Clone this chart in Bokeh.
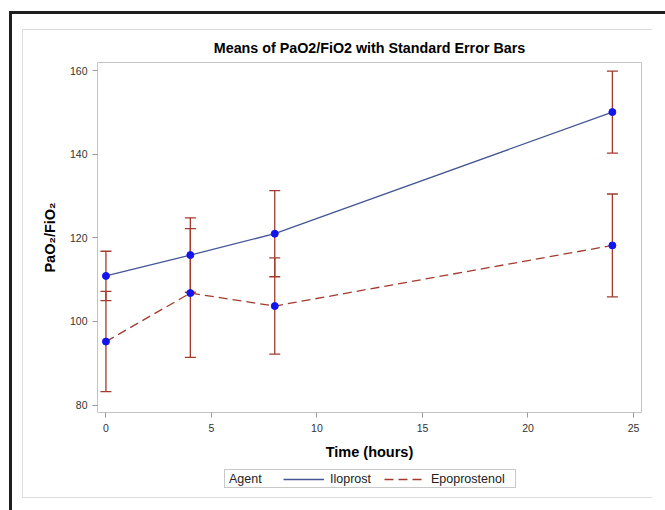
from bokeh.plotting import figure
from bokeh.layouts import column
from bokeh.models import (ColumnDataSource, Whisker, TeeHead, Legend, LegendItem,
                          Range1d, FixedTicker)
from bokeh.embed import file_html
from bokeh.resources import INLINE

# ---- data ----
time = [0, 4, 8, 24]
ilo_mean = [110.9, 115.9, 121.0, 150.1]
ilo_se = [5.9, 8.9, 10.3, 9.8]
epo_mean = [95.2, 106.8, 103.7, 118.2]
epo_se = [12.0, 15.4, 11.5, 12.3]
x_ticks = [0, 5, 10, 15, 20, 25]
y_ticks = [80, 100, 120, 140, 160]
series_names = ["Iloprost", "Epoprostenol"]
legend_title = "Agent"

BLUE_LINE = "#445694"
RED = "#A23A2E"
MARKER = "#1414EE"
FONT = "Liberation Sans"

ilo = ColumnDataSource(dict(
    t=time, m=ilo_mean,
    lo=[m - s for m, s in zip(ilo_mean, ilo_se)],
    hi=[m + s for m, s in zip(ilo_mean, ilo_se)]))
epo = ColumnDataSource(dict(
    t=time, m=epo_mean,
    lo=[m - s for m, s in zip(epo_mean, epo_se)],
    hi=[m + s for m, s in zip(epo_mean, epo_se)]))


def band(color, x, y, w, h):
    return (f"linear-gradient({color},{color})", f"{x}px {y}px", f"{w}px {h}px")


bands = [
    band("#1e1e1e", 9, 11, 3, 700),      # dark outer border, left
    band("#1e1e1e", 9, 11, 800, 3),      # dark outer border, top
    band("#dcdcdc", 22, 29, 630, 1),     # light inner box, top
    band("#dcdcdc", 22, 29, 1, 469),     # light inner box, left
    band("#dcdcdc", 22, 497, 630, 1),    # light inner box, bottom
    band("#c8c8c8", 224, 469, 292, 1),   # legend box
    band("#c8c8c8", 224, 487, 292, 1),
    band("#c8c8c8", 224, 469, 1, 19),
    band("#c8c8c8", 515, 469, 1, 19),
]
styles = {
    "background-color": "white",
    "background-image": ", ".join(b[0] for b in bands),
    "background-position": ", ".join(b[1] for b in bands),
    "background-size": ", ".join(b[2] for b in bands),
    "background-repeat": "no-repeat",
}

H_MAIN = 465
H_LEG = 45

p = figure(width=665, height=H_MAIN, output_backend="svg", toolbar_location=None,
           x_range=Range1d(-0.40, 25.38), y_range=Range1d(78.23, 161.96),
           min_border_left=97, min_border_right=24, min_border_top=62,
           min_border_bottom=53)

p.title.text = "Means of PaO2/FiO2 with Standard Error Bars"
p.title.align = "center"
p.title.text_font = FONT
p.title.text_font_size = "14.3px"
p.title.text_font_style = "bold"
p.title.text_color = "#000000"
p.title.standoff = 14

p.grid.visible = False
p.outline_line_color = "#c4c4c4"
p.outline_line_width = 1
p.background_fill_color = "white"
p.border_fill_color = None

for ax in (p.xaxis[0], p.yaxis[0]):
    ax.axis_line_color = None
    ax.major_tick_line_color = "#9a9a9a"
    ax.major_tick_out = 5
    ax.major_tick_in = 0
    ax.minor_tick_line_color = None
    ax.major_label_text_font = FONT
    ax.major_label_text_font_size = "10.5px"
    ax.major_label_text_color = "#333333"
    ax.axis_label_text_font = FONT
    ax.axis_label_text_font_size = "14.5px"
    ax.axis_label_text_font_style = "bold"
    ax.axis_label_text_color = "#000000"

p.xaxis.ticker = FixedTicker(ticks=x_ticks)
p.yaxis.ticker = FixedTicker(ticks=y_ticks)
p.xaxis.axis_label = "Time (hours)"
p.yaxis.axis_label = "PaO\u2082/FiO\u2082"
p.xaxis.major_label_standoff = 6
p.yaxis.major_label_standoff = 5
p.xaxis.axis_label_standoff = 9
p.yaxis.axis_label_standoff = 9

# lines
p.line("t", "m", source=ilo, line_color=BLUE_LINE, line_width=1.3)
p.line("t", "m", source=epo, line_color=RED, line_width=1.3, line_dash="9 5")

# error bars
for src in (ilo, epo):
    w = Whisker(source=src, base="t", upper="hi", lower="lo",
                line_color=RED, line_width=1.3,
                upper_head=TeeHead(size=11, line_color=RED, line_width=1.3),
                lower_head=TeeHead(size=11, line_color=RED, line_width=1.3))
    p.add_layout(w)

# markers
p.scatter("t", "m", source=ilo, size=7, fill_color=MARKER, line_color=MARKER)
p.scatter("t", "m", source=epo, size=7, fill_color=MARKER, line_color=MARKER)

# ---- legend strip (separate figure below the plot; its ranges keep the
#      series themselves out of view so only the legend shows) ----
lg = figure(width=665, height=H_LEG, output_backend="svg", toolbar_location=None,
            x_axis_type=None, y_axis_type=None, min_border=0,
            x_range=Range1d(0, 1), y_range=Range1d(0, 1))
lg.grid.visible = False
lg.outline_line_color = None
lg.background_fill_color = None
lg.border_fill_color = None
k_blank = lg.line("t", "m", source=ilo, line_alpha=0)
k_ilo = lg.line("t", "m", source=ilo, line_color=BLUE_LINE, line_width=1.3)
k_epo = lg.line("t", "m", source=epo, line_color=RED, line_width=1.3,
                line_dash="9 5")

legend = Legend(items=[LegendItem(label=legend_title, renderers=[k_blank]),
                       LegendItem(label=series_names[0], renderers=[k_ilo]),
                       LegendItem(label=series_names[1], renderers=[k_epo])],
                orientation="horizontal", location=(85, 24))
legend.label_text_font = FONT
legend.label_text_font_size = "12.5px"
legend.label_text_color = "#222222"
legend.glyph_width = 41
legend.glyph_height = 12
legend.label_height = 12
legend.label_width = 45
legend.label_standoff = 6
legend.spacing = 9
legend.padding = 3
legend.margin = 0
legend.border_line_color = None
legend.background_fill_alpha = 0
lg.add_layout(legend, "center")

layout = column(p, lg, width=665, height=H_MAIN + H_LEG, spacing=0, styles=styles)

open("out.html", "w").write(file_html(layout, INLINE))
